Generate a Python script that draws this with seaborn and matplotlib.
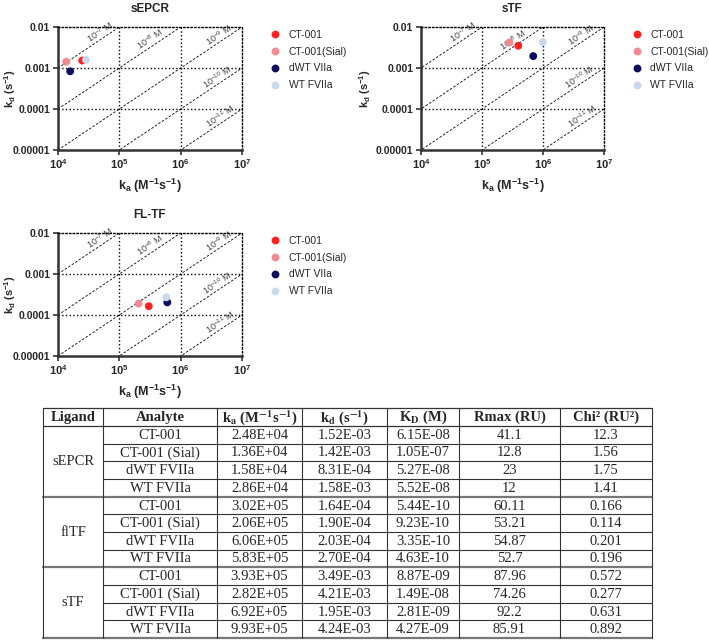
import numpy as np
import pandas as pd
import matplotlib
matplotlib.use('Agg')
import matplotlib.pyplot as plt
import seaborn as sns

sns.set_style('white')
plt.rcParams['font.family'] = ['Liberation Sans', 'DejaVu Sans']
plt.rcParams['mathtext.fontset'] = 'custom'
plt.rcParams['mathtext.rm'] = 'Liberation Sans'
plt.rcParams['mathtext.it'] = 'Liberation Sans:italic'
plt.rcParams['mathtext.bf'] = 'Liberation Sans:bold'

# ---- data (from the table) ----
ligands = ['sEPCR', 'flTF', 'sTF']
analytes = ['CT-001', 'CT-001 (Sial)', 'dWT FVIIa', 'WT FVIIa']
legend_names = ['CT-001', 'CT-001(Sial)', 'dWT VIIa', 'WT FVIIa']
ka_txt = ['2.48E+04', '1.36E+04', '1.58E+04', '2.86E+04',
          '3.02E+05', '2.06E+05', '6.06E+05', '5.83E+05',
          '3.93E+05', '2.82E+05', '6.92E+05', '9.93E+05']
kd_txt = ['1.52E-03', '1.42E-03', '8.31E-04', '1.58E-03',
          '1.64E-04', '1.90E-04', '2.03E-04', '2.70E-04',
          '3.49E-03', '4.21E-03', '1.95E-03', '4.24E-03']
KD_txt = ['6.15E-08', '1.05E-07', '5.27E-08', '5.52E-08',
          '5.44E-10', '9.23E-10', '3.35E-10', '4.63E-10',
          '8.87E-09', '1.49E-08', '2.81E-09', '4.27E-09']
rmax_txt = ['41.1', '12.8', '23', '12',
            '60.11', '53.21', '54.87', '52.7',
            '87.96', '74.26', '92.2', '85.91']
chi2_txt = ['12.3', '1.56', '1.75', '1.41',
            '0.166', '0.114', '0.201', '0.196',
            '0.572', '0.277', '0.631', '0.892']

plot_titles = {'sEPCR': 'sEPCR', 'sTF': 'sTF', 'flTF': 'FL-TF'}
colors = ['#FF2020', '#F38A92', '#0B0D5C', '#C8D9EC']
iso_KD = [1e-7, 1e-8, 1e-9, 1e-10, 1e-11]
iso_exp = ['-7', '-8', '-9', '-10', '-11']
iso_label_x = [5.5e4, 3.6e5, 4.7e6, 4.4e6, 5.0e6]

df = pd.DataFrame({
    'ligand': np.repeat(ligands, 4),
    'analyte': legend_names * 3,
    'ka': [float(v) for v in ka_txt],
    'kd': [float(v) for v in kd_txt],
})
palette = dict(zip(legend_names, colors))

fig = plt.figure(figsize=(7.09, 6.4), dpi=100)
W, H = 709, 640


def px_axes(l, t, r, b):
    return fig.add_axes([l / W, 1 - b / H, (r - l) / W, (b - t) / H])


# (ligand, axes box in pixels, y-label x position in axes coords)
panels = [('sEPCR', (58, 27, 242, 150), -0.22),
          ('sTF', (421, 27, 604, 150), -0.26),
          ('flTF', (58, 233, 242, 356), -0.22)]

for lig, box, ylx in panels:
    ax = px_axes(*box)
    ax.set_xscale('log')
    ax.set_yscale('log')
    ax.set_xlim(1e4, 1e7)
    ax.set_ylim(1e-5, 1e-2)

    # grid & frame
    for v in [1e5, 1e6]:
        ax.axvline(v, color='black', ls=':', lw=1.0, zorder=1)
    for v in [1e-4, 1e-3]:
        ax.axhline(v, color='black', ls=':', lw=1.0, zorder=1)
    for s in ['top', 'right']:
        ax.spines[s].set_linestyle(':')
        ax.spines[s].set_linewidth(1.0)
        ax.spines[s].set_color('black')
    for s in ['left', 'bottom']:
        ax.spines[s].set_linewidth(1.8)
        ax.spines[s].set_color('#333333')

    # iso-affinity lines
    p1 = ax.transData.transform((1e4, 1e-5))
    p2 = ax.transData.transform((1e7, 1e-2))
    ang = np.degrees(np.arctan2(p2[1] - p1[1], p2[0] - p1[0]))
    for K, e, lx in zip(iso_KD, iso_exp, iso_label_x):
        xs = np.array([1e3, 1e8])
        ax.plot(xs, K * xs, color='black', lw=0.6, ls=(0, (3, 2)), zorder=1)
        ax.text(lx, K * lx * 1.04, '10$^{' + e + '}$ M', rotation=ang,
                rotation_mode='anchor', ha='center', va='bottom',
                fontsize=6.5, color='#444444', zorder=2)

    sub = df[df['ligand'] == lig]
    sns.scatterplot(data=sub, x='ka', y='kd', hue='analyte', hue_order=legend_names,
                    palette=palette, s=32, edgecolor='none', ax=ax, zorder=3)
    sns.move_legend(ax, 'upper left', bbox_to_anchor=(1.10, 1.01), frameon=False,
                    title=None, fontsize=7.5, handletextpad=0.3, labelspacing=0.65,
                    borderaxespad=0)

    ax.set_xticks([1e4, 1e5, 1e6, 1e7])
    ax.set_xticklabels([r'$\mathbf{10^{4}}$', r'$\mathbf{10^{5}}$',
                        r'$\mathbf{10^{6}}$', r'$\mathbf{10^{7}}$'], fontsize=8)
    ax.set_yticks([1e-5, 1e-4, 1e-3, 1e-2])
    ax.set_yticklabels(['0.00001', '0.0001', '0.001', '0.01'],
                       fontsize=7.5, fontweight='bold')
    ax.minorticks_off()
    ax.tick_params(axis='both', which='major', direction='out', length=3.5,
                   width=1.2, color='#333333', pad=2, bottom=True, left=True)
    ax.set_xlabel(r'$\mathbf{k_a}$ $\mathbf{(M^{-1}s^{-1})}$', fontsize=9, labelpad=4)
    ax.set_ylabel(r'$\mathbf{k_d}$ $\mathbf{(s^{-1})}$', fontsize=8)
    ax.yaxis.set_label_coords(ylx, 0.5)
    ax.set_title(plot_titles[lig], fontsize=8.5, fontweight='bold', pad=11)

# ---- table ----
tax = fig.add_axes([0, 0, 1, 1])
tax.set_xlim(0, W)
tax.set_ylim(H, 0)
tax.axis('off')

col_edges = [43, 103, 217, 302, 387, 459, 560, 652]
top, head_bot, bottom = 408, 426, 638
row_h = (bottom - head_bot) / 12
serif = ['Liberation Serif', 'DejaVu Serif']
fs_tab = 10.5

headers = ['Ligand', 'Analyte',
           r'k$_\mathbf{a}$ (M$^{\mathbf{-1}}$s$^{\mathbf{-1}}$)',
           r'k$_\mathbf{d}$ (s$^{\mathbf{-1}}$)',
           r'K$_\mathbf{D}$ (M)', 'Rmax (RU)', 'Chi² (RU²)']
for i, h in enumerate(headers):
    cx = (col_edges[i] + col_edges[i + 1]) / 2
    tax.text(cx, (top + head_bot) / 2 + 0.5, h, ha='center', va='center',
             fontsize=fs_tab, fontweight='bold', family=serif, math_fontfamily='stix')

cols = [ka_txt, kd_txt, KD_txt, rmax_txt, chi2_txt]
for r in range(12):
    cy = head_bot + (r + 0.5) * row_h + 0.5
    vals = [analytes[r % 4]] + [c[r] for c in cols]
    for j, v in enumerate(vals):
        cx = (col_edges[j + 1] + col_edges[j + 2]) / 2
        tax.text(cx, cy, v, ha='center', va='center', fontsize=fs_tab, family=serif)

for g, lig in enumerate(ligands):
    cy = head_bot + (g * 4 + 2) * row_h
    tax.text((col_edges[0] + col_edges[1]) / 2, cy, lig, ha='center', va='center',
             fontsize=fs_tab, family=serif)

line_c = '#333333'
# outer & header lines
tax.plot([col_edges[0], col_edges[-1]], [top, top], color=line_c, lw=0.9)
tax.plot([col_edges[0], col_edges[-1]], [head_bot, head_bot], color=line_c, lw=0.9)
for r in range(1, 12):
    y = head_bot + r * row_h
    if r % 4 == 0:
        tax.plot([col_edges[0], col_edges[-1]], [y, y], color='#777777', lw=1.6)
    else:
        tax.plot([col_edges[1], col_edges[-1]], [y, y], color=line_c, lw=0.8)
tax.plot([col_edges[0], col_edges[-1]], [bottom, bottom], color='#777777', lw=1.6)
for x in col_edges:
    tax.plot([x, x], [top, bottom], color=line_c, lw=0.8)

fig.savefig('out.png', dpi=100)
